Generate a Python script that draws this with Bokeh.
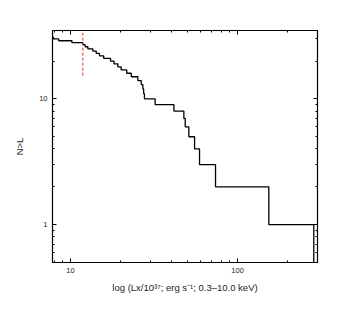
from bokeh.plotting import figure
from bokeh.models import LogAxis, FixedTicker, Range1d, NumeralTickFormatter
from bokeh.embed import file_html
from bokeh.resources import INLINE

# --- data ---
lum_start = 7.8          # lower end of the plotted luminosity range
# luminosities (10^37 erg/s) of the individual sources, sorted
source_lum = [7.9, 8.5, 10.2, 11.85, 12.24, 12.7, 13.6, 14.25, 14.9, 15.8,
              17.36, 18.2, 19.2, 20.1, 21.7, 23.1, 25.3, 26.5, 27.1, 27.4,
              27.7, 32.1, 41.6, 47.7, 48.6, 51.1, 55.3, 59.2, 73.8, 153.9, 286.0]
n_total = len(source_lum)

# completeness limit marker
limit_lum = 11.85
limit_n = [15.3, 33.5]

x_ticks = [10, 100]
x_minor = [8, 9, 20, 30, 40, 50, 60, 70, 80, 90, 200, 300]
y_ticks = [1, 10]
y_minor = [0.5, 0.6, 0.7, 0.8, 0.9, 2, 3, 4, 5, 6, 7, 8, 9, 20, 30]

x_lo, x_hi = 7.8, 301.0
y_lo, y_hi = 0.5, 35.0

# cumulative counts N(>L)
step_x = [lum_start] + source_lum
step_y = [n_total - i for i in range(len(source_lum) + 1)]
step_y[-1] = y_lo * 0.5   # N = 0 drops below the log axis

FONT = "Liberation Sans"
TXT = "#222222"

p = figure(x_axis_type="log", y_axis_type="log",
           x_range=Range1d(x_lo, x_hi), y_range=Range1d(y_lo, y_hi),
           frame_width=265, frame_height=232,
           min_border_left=52, min_border_top=30, min_border_right=14, min_border_bottom=34,
           output_backend="svg", toolbar_location=None)
p.grid.visible = False
p.outline_line_color = "black"
p.background_fill_color = "white"
p.border_fill_color = "white"

def style(ax, labels=True):
    ax.axis_line_color = "black"
    ax.axis_line_width = 1.2
    ax.major_tick_line_color = "black"
    ax.minor_tick_line_color = "black"
    ax.major_tick_in = 4
    ax.major_tick_out = 0
    ax.minor_tick_in = 2
    ax.minor_tick_out = 0
    ax.formatter = NumeralTickFormatter(format="0")
    ax.major_label_text_font = FONT
    ax.major_label_text_color = TXT if labels else None
    ax.major_label_text_font_size = "7.5px" if labels else "1px"
    ax.major_label_standoff = 5 if labels else 0
    ax.axis_label_text_font = FONT
    ax.axis_label_text_font_style = "normal"
    ax.axis_label_text_color = TXT
    ax.axis_label_text_font_size = "9.5px"

xa = p.xaxis[0]
xa.ticker = FixedTicker(ticks=x_ticks, minor_ticks=x_minor)
style(xa)
xa.axis_label = "log (Lx/10³⁷; erg s⁻¹; 0.3–10.0 keV)"
xa.axis_label_standoff = 6

ya = p.yaxis[0]
ya.ticker = FixedTicker(ticks=y_ticks, minor_ticks=y_minor)
style(ya)
ya.axis_label = "N>L"
ya.axis_label_standoff = 11

top = LogAxis(ticker=FixedTicker(ticks=x_ticks, minor_ticks=x_minor))
style(top, labels=False)
p.add_layout(top, "above")
right = LogAxis(ticker=FixedTicker(ticks=y_ticks, minor_ticks=y_minor))
style(right, labels=False)
p.add_layout(right, "right")

p.step(step_x, step_y, mode="after", line_color="black", line_width=1.3)
p.segment(x0=[limit_lum], y0=[limit_n[0]], x1=[limit_lum], y1=[limit_n[1]],
          line_color="#e8322e", line_width=1, line_dash="3 2")

open("out.html", "w").write(file_html(p, INLINE))
